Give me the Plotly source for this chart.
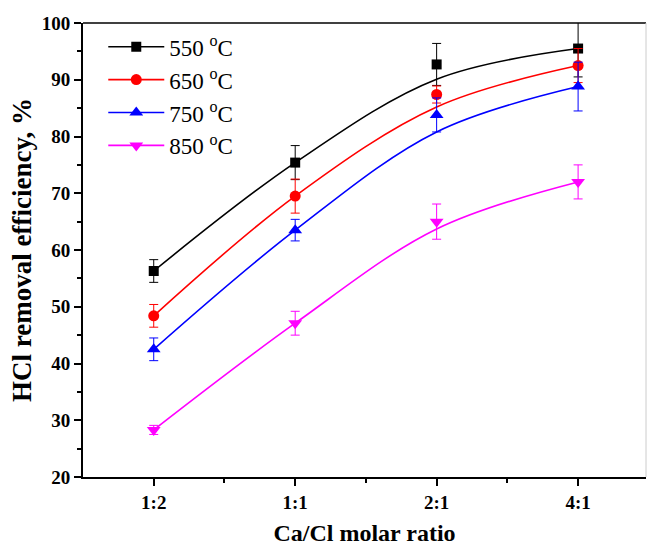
import plotly.graph_objects as go

categories = ["1:2", "1:1", "2:1", "4:1"]
series_names = ["550 <sup>o</sup>C", "650 <sup>o</sup>C", "750 <sup>o</sup>C", "850 <sup>o</sup>C"]

# measured points
y550 = [56.3, 75.4, 92.7, 95.5]
y650 = [48.4, 69.5, 87.4, 92.5]
y750 = [42.5, 63.5, 83.8, 88.8]
y850 = [28.3, 47.1, 65.0, 72.0]

# error bars
e550 = [2.0, 3.0, 3.7, 5.0]
e650 = [2.0, 3.0, 1.5, 3.0]
e750 = [2.0, 1.9, 3.0, 4.3]
e850 = [0.8, 2.1, 3.1, 3.0]

# fitted curve values read at each category
f550 = [56.3, 75.4, 90.1, 95.5]
f650 = [48.4, 69.5, 85.2, 92.5]
f750 = [42.5, 63.5, 80.8, 88.8]
f850 = [28.3, 47.1, 63.7, 72.0]

colors = ["#000000", "#ff0000", "#0000ff", "#ff00ff"]
symbols = ["square", "circle", "triangle-up", "triangle-down"]
sizes = [10, 11, 12, 12]

xpos = list(range(len(categories)))
FONT = "Liberation Serif, Times New Roman, serif"

fig = go.Figure()
for name, y, e, f, c, s, sz in zip(series_names, [y550, y650, y750, y850],
                                   [e550, e650, e750, e850],
                                   [f550, f650, f750, f850],
                                   colors, symbols, sizes):
    fig.add_trace(go.Scatter(x=xpos, y=f, mode="lines", line=dict(color=c, width=1.6, shape="spline", smoothing=1.0),
                             showlegend=False, hoverinfo="skip"))
    fig.add_trace(go.Scatter(x=xpos, y=y, mode="markers",
                             marker=dict(color=c, symbol=s, size=sz),
                             error_y=dict(type="data", array=e, color=c, thickness=1, width=4.5),
                             showlegend=False, cliponaxis=True))
    fig.add_trace(go.Scatter(x=[None], y=[None], mode="lines+markers", name=name,
                             line=dict(color=c, width=1.6),
                             marker=dict(color=c, symbol=s, size=sz)))

fig.update_layout(
    width=647, height=546,
    margin=dict(l=83, r=1, t=23, b=69),
    paper_bgcolor="white", plot_bgcolor="white",
    font=dict(family=FONT, color="black"),
    legend=dict(x=0.036, y=0.995, xanchor="left", yanchor="top",
                font=dict(size=23, family=FONT), bgcolor="rgba(0,0,0,0)",
                tracegroupgap=0, itemwidth=56),
    xaxis=dict(range=[-0.5, 3.48], tickvals=xpos, ticktext=[f"<b>{c}</b>" for c in categories],
               automargin=False,
               showgrid=False, zeroline=False, showline=True, linecolor="black", linewidth=2,
               mirror=False, ticks="outside", ticklen=7, tickwidth=2, tickcolor="black",
               tickfont=dict(size=19, family=FONT),
               minor=dict(tickvals=[0.5, 1.5, 2.5], ticks="outside", ticklen=4, tickwidth=1.5, tickcolor="black"),
               title=dict(text="<b>Ca/Cl molar ratio</b>", font=dict(size=24, family=FONT), standoff=12)),
    yaxis=dict(range=[20, 100], dtick=10, tickformat="d",
               automargin=False,
               showgrid=False, zeroline=False, showline=True, linecolor="black", linewidth=2,
               ticks="outside", ticklen=7, tickwidth=2, tickcolor="black",
               tickfont=dict(size=19, family=FONT),
               minor=dict(dtick=5, ticks="outside", ticklen=4, tickwidth=1.5, tickcolor="black"),
               tickprefix="<b>", ticksuffix="</b>",
               title=dict(text="<b>HCl removal efficiency, %</b>", font=dict(size=27, family=FONT), standoff=2)),
)
# top frame line and light right frame line
fig.add_shape(type="line", xref="paper", yref="paper", x0=0, x1=1, y0=1, y1=1,
              line=dict(color="black", width=1.5))
fig.add_shape(type="line", xref="paper", yref="paper", x0=1, x1=1, y0=0, y1=1,
              line=dict(color="#cccccc", width=1))

fig.write_html("out.html", config={"displayModeBar": False},
               post_script="document.body.style.margin='0';document.body.style.overflow='hidden';")
